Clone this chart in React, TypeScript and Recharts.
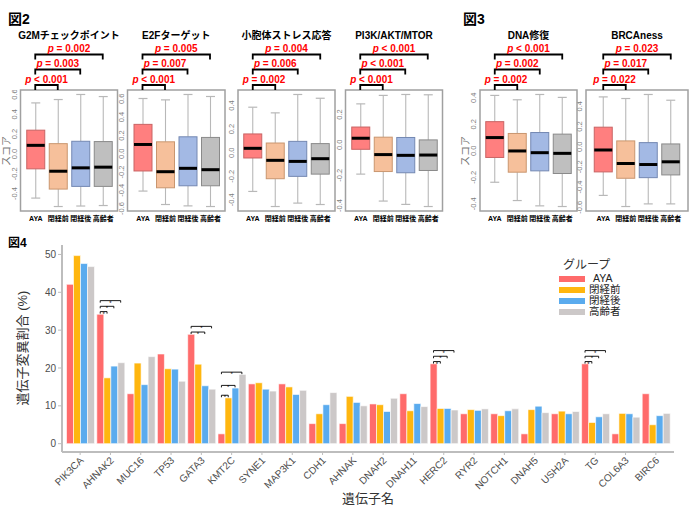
import { Bar, BarChart, ComposedChart, Legend, XAxis, YAxis } from 'recharts'

const FONT = '"Liberation Sans", Arial, "Noto Sans CJK JP", sans-serif'

const groups = ['AYA', '閉経前', '閉経後', '高齢者']

// boxplot stats per group: [lower whisker, Q1, median, Q3, upper whisker]
const g2mStats = [
  [-0.445, -0.15, 0.087, 0.24, 0.515],
  [-0.53, -0.354, -0.174, 0.104, 0.549],
  [-0.525, -0.327, -0.14, 0.128, 0.6],
  [-0.52, -0.327, -0.133, 0.125, 0.579],
]
const e2fStats = [
  [-0.409, -0.189, 0.101, 0.321, 0.604],
  [-0.556, -0.373, -0.197, 0.13, 0.589],
  [-0.571, -0.351, -0.16, 0.185, 0.648],
  [-0.578, -0.351, -0.175, 0.178, 0.626],
]
const upStats = [
  [-0.329, -0.045, 0.037, 0.159, 0.386],
  [-0.457, -0.221, -0.065, 0.082, 0.338],
  [-0.428, -0.201, -0.074, 0.096, 0.494],
  [-0.44, -0.182, -0.051, 0.077, 0.462],
]
const pi3kStats = [
  [-0.193, -0.029, 0.044, 0.118, 0.271],
  [-0.371, -0.176, -0.064, 0.051, 0.327],
  [-0.393, -0.184, -0.069, 0.049, 0.333],
  [-0.407, -0.169, -0.067, 0.033, 0.331],
]
const dnaStats = [
  [-0.237, -0.05, 0.1, 0.22, 0.418],
  [-0.375, -0.161, -0.001, 0.131, 0.385],
  [-0.415, -0.151, -0.014, 0.138, 0.425],
  [-0.42, -0.171, -0.019, 0.126, 0.403],
]
const brcaStats = [
  [-0.483, -0.25, -0.033, 0.193, 0.493],
  [-0.593, -0.313, -0.167, 0.057, 0.477],
  [-0.567, -0.307, -0.177, 0.04, 0.517],
  [-0.567, -0.28, -0.15, 0.027, 0.46],
]

// p values: AYA vs 閉経前, 閉経後, 高齢者
const g2mP = ['< 0.001', '= 0.003', '= 0.002']
const e2fP = ['< 0.001', '= 0.007', '= 0.005']
const upP = ['= 0.002', '= 0.006', '= 0.004']
const pi3kP = ['< 0.001', '< 0.001', '< 0.001']
const dnaP = ['= 0.002', '= 0.002', '< 0.001']
const brcaP = ['= 0.022', '= 0.017', '= 0.023']

const panels = [
  { title: 'G2Mチェックポイント', stats: g2mStats, p: g2mP, ticks: [-0.4, -0.2, 0, 0.2, 0.4, 0.6] },
  { title: 'E2Fターゲット', stats: e2fStats, p: e2fP, ticks: [-0.6, -0.4, -0.2, 0, 0.2, 0.4, 0.6] },
  { title: '小胞体ストレス応答', stats: upStats, p: upP, ticks: [-0.4, -0.2, 0, 0.2, 0.4] },
  { title: 'PI3K/AKT/MTOR', stats: pi3kStats, p: pi3kP, ticks: [-0.4, -0.2, 0, 0.2] },
  { title: 'DNA修復', stats: dnaStats, p: dnaP, ticks: [-0.4, -0.2, 0, 0.2, 0.4] },
  { title: 'BRCAness', stats: brcaStats, p: brcaP, ticks: [-0.6, -0.4, -0.2, 0, 0.2, 0.4] },
]

// 図4: mutation rate (%) by gene
const genes = ['PIK3CA', 'AHNAK2', 'MUC16', 'TP53', 'GATA3', 'KMT2C', 'SYNE1', 'MAP3K1', 'CDH1', 'AHNAK',
  'DNAH2', 'DNAH11', 'HERC2', 'RYR2', 'NOTCH1', 'DNAH5', 'USH2A', 'TG', 'COL6A3', 'BIRC6']
const ayaRate = [42.1, 34.2, 13.2, 23.7, 28.9, 2.6, 15.8, 15.8, 5.3, 5.3, 10.5, 13.2, 21.1, 7.9, 7.9, 2.6, 7.9, 21.1, 2.6, 13.2]
const preRate = [49.7, 17.4, 21.3, 19.8, 21.0, 12.1, 16.1, 15.0, 7.9, 12.5, 10.3, 8.7, 9.3, 9.0, 7.4, 9.0, 8.6, 5.6, 8.0, 5.0]
const postRate = [47.6, 20.5, 15.6, 19.7, 15.3, 14.7, 14.4, 13.0, 10.3, 10.9, 8.5, 10.6, 9.3, 8.8, 8.7, 9.9, 7.9, 7.1, 7.9, 7.4]
const oldRate = [46.8, 21.4, 23.0, 16.5, 14.4, 18.3, 13.9, 14.1, 13.5, 10.0, 12.0, 9.8, 8.9, 9.2, 9.2, 8.2, 8.5, 7.9, 7.0, 8.0]
const rateTicks = [0, 10, 20, 30, 40, 50]

// significance brackets: [gene, compared group index, bracket height (%)]
const sigMarks: [string, number, number][] = [
  ['AHNAK2', 1, 34.9], ['AHNAK2', 2, 36.3], ['AHNAK2', 3, 37.8],
  ['GATA3', 2, 29.5], ['GATA3', 3, 31.0],
  ['KMT2C', 1, 12.8], ['KMT2C', 2, 15.4], ['KMT2C', 3, 18.9],
  ['HERC2', 1, 21.7], ['HERC2', 2, 23.1], ['HERC2', 3, 24.6],
  ['TG', 1, 21.7], ['TG', 2, 23.1], ['TG', 3, 24.6],
]

const boxFill = ['#ff7f7f', '#f6c09b', '#a3b9e4', '#bfbfbf']
const boxLine = ['#c96464', '#c9966f', '#7488b2', '#8a8a8a']
const barFill = ['#ff6b6b', '#ffb60f', '#5aabee', '#ccc8c8']

// layout of the small box panels
const FRAME_TOP = 90
const FRAME_H = 121
const STEP = 22.5
const panelLeft = [20.5, 127.5, 238, 345.5, 480, 586]
const panelWidth = [97, 97.5, 97, 97, 97, 102]

// layout of 図4
const BAR_TOP = 228
const BAR_H = 284
const PLOT_L = 62
const PLOT_R = 674
const PLOT_T = 245
const PLOT_B = 452
const Y_DOMAIN = [-2.2, 52.5]
const X_PAD = 3

function BoxShape(props: any) {
  const { x, y, width, height, payload, index } = props
  const [lo, q1, med, q3, hi] = payload.stats
  const top = Math.min(y, y + height)
  const h = Math.abs(height)
  const py = (v: number) => top + ((hi - v) / (hi - lo)) * h
  const cx = x + width / 2
  const cap = width / 4
  const wc = '#b8b8b8'
  return (
    <g>
      <line x1={cx} x2={cx} y1={py(hi)} y2={py(q3)} stroke={wc} strokeWidth={1.1} />
      <line x1={cx} x2={cx} y1={py(q1)} y2={py(lo)} stroke={wc} strokeWidth={1.1} />
      <line x1={cx - cap} x2={cx + cap} y1={py(hi)} y2={py(hi)} stroke={wc} strokeWidth={1.2} />
      <line x1={cx - cap} x2={cx + cap} y1={py(lo)} y2={py(lo)} stroke={wc} strokeWidth={1.2} />
      <rect x={x} y={py(q3)} width={width} height={py(q1) - py(q3)} fill={boxFill[index]} stroke={boxLine[index]} strokeWidth={1} />
      <line x1={x} x2={x + width} y1={py(med)} y2={py(med)} stroke="#000" strokeWidth={3} />
    </g>
  )
}

function RotTick(props: any) {
  const { y, payload } = props
  return (
    <text transform={`translate(15.5,${y}) rotate(-90)`} textAnchor="middle" fontSize={7.5} fill="#808080" fontFamily={FONT}>
      {Number(payload.value).toFixed(1)}
    </text>
  )
}

function BoxPanel({ idx }: { idx: number }) {
  const panel = panels[idx]
  const data = groups.map((g, i) => ({ group: g, stats: panel.stats[i], range: [panel.stats[i][0], panel.stats[i][4]] }))
  const lo = Math.min(...panel.stats.map((s) => s[0]))
  const hi = Math.max(...panel.stats.map((s) => s[4]))
  const pad = 0.04 * (hi - lo)
  const w = panelWidth[idx]
  const padX = (w - 4 * STEP) / 2
  return (
    <div style={{ position: 'absolute', left: panelLeft[idx] - 20, top: FRAME_TOP }}>
      <ComposedChart width={w + 24} height={FRAME_H + 20} data={data} margin={{ top: 0, right: 4, bottom: 0, left: 0 }} barCategoryGap="10%">
        <XAxis dataKey="group" interval={0} height={20} padding={{ left: padX, right: padX }} axisLine={false} tickLine={false}
          tickSize={3} tickMargin={2} tick={{ fontSize: 7, fontWeight: 700, fill: '#000', fontFamily: FONT }} />
        <YAxis type="number" domain={[lo - pad, hi + pad]} ticks={panel.ticks} interval={0} width={20} axisLine={false} tickLine={false}
          allowDataOverflow tick={<RotTick />} />
        <Bar dataKey="range" shape={<BoxShape />} isAnimationActive={false} />
      </ComposedChart>
    </div>
  )
}

function GeneTick(props: any) {
  const { x, y, payload } = props
  const ax = x + 4
  const ay = y + 4
  return (
    <text x={ax} y={ay} textAnchor="end" transform={`rotate(-45 ${ax} ${ay})`} fontSize={10} fill="#4d4d4d" fontFamily={FONT}>
      {payload.value}
    </text>
  )
}

function GroupLegend() {
  return (
    <div style={{ fontFamily: FONT }}>
      <div style={{ fontSize: 12, lineHeight: '16px', height: 16, color: '#333', marginLeft: 4 }}>グループ</div>
      {groups.map((g, i) => (
        <div key={g} style={{ position: 'relative', height: 11 }}>
          <span style={{ position: 'absolute', left: 0, top: 2.5, width: 26, height: 6, background: barFill[i] }} />
          <span style={{ position: 'absolute', left: i === 0 ? 34 : 30, top: 0, fontSize: 10.5, lineHeight: '11px', color: '#222', whiteSpace: 'nowrap' }}>{g}</span>
        </div>
      ))}
    </div>
  )
}

function MutationChart() {
  const data = genes.map((gene, i) => ({ gene, aya: ayaRate[i], pre: preRate[i], post: postRate[i], old: oldRate[i] }))
  const keys = ['aya', 'pre', 'post', 'old']
  return (
    <div style={{ position: 'absolute', left: 0, top: BAR_TOP }}>
      <BarChart width={700} height={BAR_H} data={data} barCategoryGap="5%" barGap={0}
        margin={{ top: PLOT_T - BAR_TOP, right: 700 - PLOT_R, bottom: 0, left: 0 }}>
        <XAxis dataKey="gene" interval={0} height={BAR_TOP + BAR_H - PLOT_B} padding={{ left: X_PAD, right: X_PAD }}
          axisLine={{ stroke: '#bdbdbd', strokeWidth: 2 }} tickLine={{ stroke: '#bdbdbd' }} tickSize={3} tick={<GeneTick />} />
        <YAxis type="number" domain={Y_DOMAIN} ticks={rateTicks} width={PLOT_L} allowDataOverflow
          axisLine={{ stroke: '#bdbdbd', strokeWidth: 2 }} tickLine={{ stroke: '#bdbdbd' }} tickSize={4}
          tick={{ fontSize: 10, fill: '#4d4d4d', fontFamily: FONT }} />
        {keys.map((k, i) => (
          <Bar key={k} dataKey={k} name={groups[i]} fill={barFill[i]} stroke="#fff" strokeWidth={0.6} isAnimationActive={false} />
        ))}
        <Legend layout="vertical" align="center" verticalAlign="middle" content={<GroupLegend />}
          wrapperStyle={{ left: 559, top: 257 - BAR_TOP, width: 90 }} />
      </BarChart>
    </div>
  )
}

function Overlay() {
  const band = (PLOT_R - PLOT_L - 2 * X_PAD) / genes.length
  const barW = (band * 0.9) / 4
  const barX = (g: number, k: number) => PLOT_L + X_PAD + (g + 0.5) * band + (k - 1.5) * barW
  const valY = (v: number) => PLOT_T + ((Y_DOMAIN[1] - v) / (Y_DOMAIN[1] - Y_DOMAIN[0])) * (PLOT_B - PLOT_T)
  const levels = [85, 69.5, 54.5]
  return (
    <svg width={700} height={512} style={{ position: 'absolute', left: 0, top: 0, pointerEvents: 'none' }} fontFamily={FONT}>
      <text x={8} y={24} fontSize={14} fontWeight={700}>図2</text>
      <text x={463} y={24} fontSize={14} fontWeight={700}>図3</text>
      <text x={8} y={247} fontSize={12} fontWeight={700}>図4</text>
      {panels.map((panel, idx) => {
        const left = panelLeft[idx]
        const w = panelWidth[idx]
        const padX = (w - 4 * STEP) / 2
        const cx = (i: number) => left + padX + (i + 0.5) * STEP
        return (
          <g key={panel.title}>
            <rect x={left} y={FRAME_TOP} width={w} height={FRAME_H} fill="none" stroke="#a0a0a0" strokeWidth={1.5} />
            <text x={left + w / 2} y={39} textAnchor="middle" fontSize={10} fontWeight={700}>{panel.title}</text>
            {panel.p.map((pv, j) => {
              const yb = levels[j]
              const x1 = cx(0)
              const x2 = cx(j + 1)
              return (
                <g key={j}>
                  <path d={`M${x1},${yb + 5} V${yb} H${x2} V${yb + 5}`} fill="none" stroke="#000" strokeWidth={1.8} />
                  <text x={(x1 + x2) / 2} y={yb - 2.5} textAnchor="middle" fontSize={10} fontWeight={700} fill="#ff0000">
                    <tspan fontStyle="italic">p</tspan> {pv}
                  </text>
                </g>
              )
            })}
          </g>
        )
      })}
      <text transform="translate(10,151) rotate(-90)" textAnchor="middle" fontSize={10} fill="#7a7a7a">スコア</text>
      <text transform="translate(469,151) rotate(-90)" textAnchor="middle" fontSize={10} fill="#7a7a7a">スコア</text>
      <text transform="translate(27,348) rotate(-90)" textAnchor="middle" fontSize={13} fill="#333">遺伝子変異割合 (%)</text>
      <text x={(PLOT_L + PLOT_R) / 2} y={503} textAnchor="middle" fontSize={13} fill="#333">遺伝子名</text>
      {sigMarks.map(([gene, k, level], i) => {
        const g = genes.indexOf(gene)
        const x1 = barX(g, 0)
        const x2 = barX(g, k)
        const yb = valY(level)
        return (
          <g key={i}>
            <path d={`M${x1},${yb + 2} V${yb} H${x2} V${yb + 2}`} fill="none" stroke="#000" strokeWidth={0.9} />
            <text x={(x1 + x2) / 2} y={yb + 4} textAnchor="middle" fontSize={6}>*</text>
          </g>
        )
      })}
    </svg>
  )
}

export default function App() {
  return (
    <div style={{ position: 'relative', width: 700, height: 512, background: '#fff', fontFamily: FONT }}>
      <style>{'body{margin:0}'}</style>
      {panels.map((p, i) => (
        <BoxPanel key={p.title} idx={i} />
      ))}
      <MutationChart />
      <Overlay />
    </div>
  )
}
